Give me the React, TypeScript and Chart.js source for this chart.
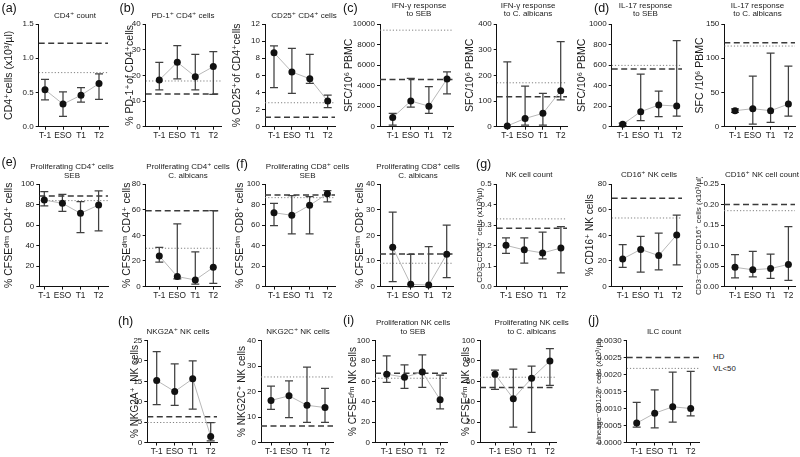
import React, { useEffect, useRef } from "react";
import { Chart, registerables } from "chart.js";
Chart.register(...registerables);

const FONT = "'Liberation Sans', Arial, Helvetica, 'DejaVu Sans', sans-serif";
const xLabels = ["T-1", "ESO", "T1", "T2"];

// (a) CD4+ count
const cd4CountMean = [0.54, 0.33, 0.46, 0.63];
const cd4CountLow = [0.39, 0.15, 0.36, 0.4];
const cd4CountHigh = [0.69, 0.51, 0.57, 0.77];
const cd4CountRef = [1.22, 0.79];
const cd4CountTicks = [0, 0.5, 1.0, 1.5];

// (b) PD-1+ CD4+
const pd1Mean = [18.2, 25.1, 19.5, 23.4];
const pd1Low = [14.3, 18.6, 14.3, 12.6];
const pd1High = [25.1, 31.6, 28.2, 29.2];
const pd1Ref = [12.7, 17.8];
const pd1Ticks = [0, 10, 20, 30, 40];

// (b) CD25+ CD4+
const cd25Mean = [8.65, 6.39, 5.61, 3.0];
const cd25Low = [4.56, 3.9, 5.07, 2.22];
const cd25High = [9.43, 9.16, 8.46, 3.7];
const cd25Ref = [1.1, 2.8];
const cd25Ticks = [0, 2, 4, 6, 8, 10, 12];

// (c) IFN-g SEB
const ifnSebMean = [900, 2500, 2000, 4650];
const ifnSebLow = [150, 1900, 1300, 3200];
const ifnSebHigh = [1300, 4700, 3900, 5350];
const ifnSebRef = [4600, 9400];
const ifnSebTicks = [0, 2000, 4000, 6000, 8000, 10000];

// (c) IFN-g C. albicans
const ifnCaMean = [3, 32, 52, 140];
const ifnCaLow = [0, 6, 6, 104];
const ifnCaHigh = [252, 158, 130, 331];
const ifnCaRef = [117, 171];
const ifnCaTicks = [0, 100, 200, 300, 400];

// (d) IL-17 SEB
const il17SebMean = [23, 146, 211, 201];
const il17SebLow = [10, 58, 97, 104];
const il17SebHigh = [35, 513, 347, 838];
const il17SebRef = [562, 597];
const il17SebTicks = [0, 200, 400, 600, 800, 1000];

// (d) IL-17 C. albicans
const il17CaMean = [23.4, 26.3, 23.4, 33];
const il17CaLow = [21, 3.9, 6.3, 15.6];
const il17CaHigh = [26, 74, 107.6, 88.6];
const il17CaRef = [122.7, 117.8];
const il17CaTicks = [0, 50, 100, 150];

// (e) Proliferating CD4+ SEB
const prCd4SebMean = [84.4, 81.2, 71.4, 79.5];
const prCd4SebLow = [78.6, 73.4, 52.6, 54.2];
const prCd4SebHigh = [92.5, 90, 82.8, 93.2];
const prCd4SebRef = [88.3, 83.8];
const prCd4SebTicks = [0, 20, 40, 60, 80, 100];

// (e) Proliferating CD4+ C. albicans
const prCd4CaMean = [23.9, 7.8, 5.2, 15];
const prCd4CaLow = [19, 6, 2, 2.6];
const prCd4CaHigh = [30.6, 49, 27, 59.2];
const prCd4CaRef = [59.2, 29.9];
const prCd4CaTicks = [0, 20, 40, 60, 80];

// (f) Proliferating CD8+ SEB
const prCd8SebMean = [72, 69.5, 79.2, 90.6];
const prCd8SebLow = [59.4, 51.3, 51.3, 82.5];
const prCd8SebHigh = [81, 88.6, 87.7, 93.5];
const prCd8SebRef = [89.3, 86.7];
const prCd8SebTicks = [0, 20, 40, 60, 80, 100];

// (f) Proliferating CD8+ C. albicans
const prCd8CaMean = [15.3, 0.9, 0.6, 12.6];
const prCd8CaLow = [1.9, 0, 0, 3.5];
const prCd8CaHigh = [29, 12.6, 15.6, 24];
const prCd8CaRef = [12.7, 9.1];
const prCd8CaTicks = [0, 10, 20, 30, 40];

// (g) NK cell count
const nkCountMean = [0.201, 0.179, 0.164, 0.188];
const nkCountLow = [0.162, 0.115, 0.135, 0.067];
const nkCountHigh = [0.237, 0.237, 0.265, 0.292];
const nkCountRef = [0.284, 0.33];
const nkCountTicks = [0, 0.1, 0.2, 0.3, 0.4, 0.5];

// (g) CD16+ NK cells
const cd16PctMean = [21.6, 29, 24.2, 40.3];
const cd16PctLow = [15, 11.2, 13, 16.9];
const cd16PctHigh = [32.7, 39.2, 41.6, 55.8];
const cd16PctRef = [68.8, 53.5];
const cd16PctTicks = [0, 20, 40, 60, 80];

// (g) CD16+ NK cell count
const cd16CountMean = [0.047, 0.041, 0.044, 0.054];
const cd16CountLow = [0.021, 0.024, 0.02, 0.015];
const cd16CountHigh = [0.078, 0.086, 0.079, 0.146];
const cd16CountRef = [0.2, 0.185];
const cd16CountTicks = [0, 0.05, 0.1, 0.15, 0.2, 0.25];

// (h) NKG2A+
const nkg2aMean = [15.2, 12.5, 15.6, 1.5];
const nkg2aLow = [9.3, 9.1, 8.2, 0.4];
const nkg2aHigh = [22.3, 19.3, 20, 4.9];
const nkg2aRef = [6.3, 4.9];
const nkg2aTicks = [0, 5, 10, 15, 20, 25];

// (h) NKG2C+
const nkg2cMean = [16.5, 18.3, 14.6, 13.7];
const nkg2cLow = [13, 9.8, 7.9, 7.9];
const nkg2cHigh = [22.1, 24.2, 29.6, 21.2];
const nkg2cRef = [6.5, 25.7];
const nkg2cTicks = [0, 10, 20, 30, 40];

// (i) Proliferation NK SEB
const prNkSebMean = [67, 64, 69, 42];
const prNkSebLow = [59, 53, 54, 33];
const prNkSebHigh = [85, 76, 86, 66];
const prNkSebRef = [68, 63];
const prNkSebTicks = [0, 20, 40, 60, 80, 100];

// (i) Proliferating NK C. albicans
const prNkCaMean = [67, 43, 63, 80];
const prNkCaLow = [52, 15, 10, 56];
const prNkCaHigh = [71, 72, 75, 92];
const prNkCaRef = [54, 64];
const prNkCaTicks = [0, 20, 40, 60, 80, 100];

// (j) ILC count
const ilcMean = [0.00057, 0.00086, 0.00105, 0.001];
const ilcLow = [0.00045, 0.00043, 0.0006, 0.00078];
const ilcHigh = [0.00118, 0.00155, 0.00207, 0.00209];
const ilcRef = [0.0025, 0.00218];
const ilcTicks = [0, 0.0005, 0.001, 0.0015, 0.002, 0.0025, 0.003];

type P = {
  mean: number[]; low: number[]; high: number[]; ref: number[]; ticks: number[]; dec: number;
  yTitle: string; ts: number; tx: number;
  ax: number; fx: number; sp: number; ex: number; top: number; bot: number;
};

const R1 = { top: 24, bot: 126.7 };
const R2 = { top: 184, bot: 286.6 };
const R3 = { top: 340.5, bot: 442.5 };
const SFC = "SFC/10\u2076 PBMC";

const panels: P[] = [
  { mean: cd4CountMean, low: cd4CountLow, high: cd4CountHigh, ref: cd4CountRef, ticks: cd4CountTicks, dec: 1, yTitle: "CD4\u207Acells (x10\u00B3/\u00B5l)", ts: 10.5, tx: 9, ax: 38.7, fx: 45, sp: 18, ex: 108, ...R1 },
  { mean: pd1Mean, low: pd1Low, high: pd1High, ref: pd1Ref, ticks: pd1Ticks, dec: 0, yTitle: "% PD-1\u207Aof CD4\u207Acells", ts: 10.5, tx: 130, ax: 145.7, fx: 159.3, sp: 18, ex: 221, ...R1 },
  { mean: cd25Mean, low: cd25Low, high: cd25High, ref: cd25Ref, ticks: cd25Ticks, dec: 0, yTitle: "% CD25\u207Aof CD4\u207Acells", ts: 10.5, tx: 236.7, ax: 265, fx: 274, sp: 17.9, ex: 335, ...R1 },
  { mean: ifnSebMean, low: ifnSebLow, high: ifnSebHigh, ref: ifnSebRef, ticks: ifnSebTicks, dec: 0, yTitle: SFC, ts: 10.5, tx: 349.3, ax: 380, fx: 392.7, sp: 18.1, ex: 453, ...R1 },
  { mean: ifnCaMean, low: ifnCaLow, high: ifnCaHigh, ref: ifnCaRef, ticks: ifnCaTicks, dec: 0, yTitle: SFC, ts: 10.5, tx: 470, ax: 496.7, fx: 507.3, sp: 17.8, ex: 567, ...R1 },
  { mean: il17SebMean, low: il17SebLow, high: il17SebHigh, ref: il17SebRef, ticks: il17SebTicks, dec: 0, yTitle: SFC, ts: 10.5, tx: 582.3, ax: 611.7, fx: 622.7, sp: 18, ex: 682, ...R1 },
  { mean: il17CaMean, low: il17CaLow, high: il17CaHigh, ref: il17CaRef, ticks: il17CaTicks, dec: 0, yTitle: "SFC /10\u2076 PBMC", ts: 10.5, tx: 700, ax: 724.3, fx: 735, sp: 17.8, ex: 795, ...R1 },
  { mean: prCd4SebMean, low: prCd4SebLow, high: prCd4SebHigh, ref: prCd4SebRef, ticks: prCd4SebTicks, dec: 0, yTitle: "% CFSE\u1D48\u2071\u1D50 CD4\u207A cells", ts: 10.5, tx: 9, ax: 39.3, fx: 44.3, sp: 18.1, ex: 108, ...R2 },
  { mean: prCd4CaMean, low: prCd4CaLow, high: prCd4CaHigh, ref: prCd4CaRef, ticks: prCd4CaTicks, dec: 0, yTitle: "% CFSE\u1D48\u2071\u1D50 CD4\u207A cells", ts: 10.5, tx: 126.7, ax: 145.7, fx: 159.3, sp: 18, ex: 220, ...R2 },
  { mean: prCd8SebMean, low: prCd8SebLow, high: prCd8SebHigh, ref: prCd8SebRef, ticks: prCd8SebTicks, dec: 0, yTitle: "% CFSE\u1D48\u2071\u1D50 CD8\u207A cells", ts: 10.5, tx: 240, ax: 265, fx: 274, sp: 17.8, ex: 335, ...R2 },
  { mean: prCd8CaMean, low: prCd8CaLow, high: prCd8CaHigh, ref: prCd8CaRef, ticks: prCd8CaTicks, dec: 0, yTitle: "% CFSE\u1D48\u2071\u1D50 CD8\u207A cells", ts: 10.5, tx: 360, ax: 380, fx: 392.7, sp: 18, ex: 453, ...R2 },
  { mean: nkCountMean, low: nkCountLow, high: nkCountHigh, ref: nkCountRef, ticks: nkCountTicks, dec: 1, yTitle: "CD3\u207BCD56\u207A cells (x10\u00B3/\u00B5l)", ts: 8, tx: 480, ax: 496.7, fx: 506, sp: 18.3, ex: 567, ...R2 },
  { mean: cd16PctMean, low: cd16PctLow, high: cd16PctHigh, ref: cd16PctRef, ticks: cd16PctTicks, dec: 0, yTitle: "% CD16\u207A NK cells", ts: 10, tx: 590, ax: 611.7, fx: 622.7, sp: 18, ex: 682, ...R2 },
  { mean: cd16CountMean, low: cd16CountLow, high: cd16CountHigh, ref: cd16CountRef, ticks: cd16CountTicks, dec: 2, yTitle: "CD3\u207BCD56\u207ACD16\u207A cells (x10\u00B3/\u00B5l)", ts: 8, tx: 699, ax: 724, fx: 735, sp: 17.8, ex: 795, ...R2 },
  { mean: nkg2aMean, low: nkg2aLow, high: nkg2aHigh, ref: nkg2aRef, ticks: nkg2aTicks, dec: 0, yTitle: "% NKG2A\u207A  NK cells", ts: 10, tx: 135, ax: 147.3, fx: 156.7, sp: 18, ex: 217, ...R3 },
  { mean: nkg2cMean, low: nkg2cLow, high: nkg2cHigh, ref: nkg2cRef, ticks: nkg2cTicks, dec: 0, yTitle: "% NKG2C\u207A NK cells", ts: 10, tx: 242.7, ax: 261, fx: 271, sp: 18, ex: 333, ...R3 },
  { mean: prNkSebMean, low: prNkSebLow, high: prNkSebHigh, ref: prNkSebRef, ticks: prNkSebTicks, dec: 0, yTitle: "% CFSE\u1D48\u2071\u1D50 NK cells", ts: 10, tx: 353, ax: 375, fx: 386.7, sp: 17.8, ex: 447, ...R3 },
  { mean: prNkCaMean, low: prNkCaLow, high: prNkCaHigh, ref: prNkCaRef, ticks: prNkCaTicks, dec: 0, yTitle: "% CFSE\u1D48\u2071\u1D50 NK cells", ts: 10, tx: 466.7, ax: 480, fx: 495, sp: 18.3, ex: 556, ...R3 },
  { mean: ilcMean, low: ilcLow, high: ilcHigh, ref: ilcRef, ticks: ilcTicks, dec: 4, yTitle: "Lineage\u207BCD127\u207A cells (x10\u00B3/\u00B5l)", ts: 7.5, tx: 598.5, ax: 626.7, fx: 636.7, sp: 18, ex: 699, ...R3 },
];

type T = { lines: string[]; x: number; y: number };
const titles: T[] = [
  { lines: ["CD4\u207A count"], x: 75, y: 15.7 },
  { lines: ["PD-1\u207A CD4\u207A cells"], x: 183, y: 15.7 },
  { lines: ["CD25\u207A CD4\u207A cells"], x: 304, y: 15.7 },
  { lines: ["IFN-\u03B3 response", "to SEB"], x: 419, y: 10.5 },
  { lines: ["IFN-\u03B3 response", "to C. albicans"], x: 528, y: 10.5 },
  { lines: ["IL-17 response", "to SEB"], x: 645.5, y: 10.5 },
  { lines: ["IL-17 response", "to C. albicans"], x: 757.5, y: 10.5 },
  { lines: ["Proliferating CD4\u207A cells", "SEB"], x: 72, y: 172 },
  { lines: ["Proliferating CD4\u207A cells", "C. albicans"], x: 188, y: 172 },
  { lines: ["Proliferating CD8\u207A cells", "SEB"], x: 307.5, y: 172 },
  { lines: ["Proliferating CD8\u207A cells", "C. albicans"], x: 418, y: 172 },
  { lines: ["NK cell count"], x: 529, y: 175 },
  { lines: ["CD16\u207A NK cells"], x: 649, y: 175 },
  { lines: ["CD16\u207A NK cell count"], x: 762, y: 175 },
  { lines: ["NKG2A\u207A NK cells"], x: 178, y: 332.3 },
  { lines: ["NKG2C\u207A NK cells"], x: 298, y: 332.3 },
  { lines: ["Proliferation NK cells", "to SEB"], x: 413, y: 328.3 },
  { lines: ["Proliferating NK cells", "to C. albicans"], x: 531.7, y: 328.3 },
  { lines: ["ILC count"], x: 664, y: 332.3 },
];

const letters = [
  { t: "(a)", x: 1.5, y: 8.3 }, { t: "(b)", x: 119.5, y: 8.3 }, { t: "(c)", x: 343, y: 8.3 }, { t: "(d)", x: 594, y: 8.3 },
  { t: "(e)", x: 1.5, y: 162 }, { t: "(f)", x: 236, y: 164 }, { t: "(g)", x: 476, y: 164 },
  { t: "(h)", x: 118, y: 321 }, { t: "(i)", x: 343, y: 320 }, { t: "(j)", x: 588, y: 320 },
];

const legendItems = [
  { t: "HD", y: 356 },
  { t: "VL<50", y: 367.5 },
];

function Panel({ p }: { p: P }) {
  const ref = useRef<HTMLCanvasElement>(null);
  const L = Math.floor(p.tx - p.ts / 2 - 2);
  const Tp = Math.floor(p.top - 7);
  const Rr = Math.ceil(p.ex + 7);
  const XH = 20;
  const W = Rr - L;
  const H = Math.ceil(p.bot - Tp + XH);
  useEffect(() => {
    const xmin = -(p.fx - p.ax) / p.sp;
    const xmax = 3 + (p.ex - (p.fx + 3 * p.sp)) / p.sp;
    const ymax = p.ticks[p.ticks.length - 1];
    const err = {
      id: "err",
      beforeDatasetDraw(chart: any, args: any) {
        if (args.index !== 0) return;
        const ctx = chart.ctx, xs = chart.scales.x, ys = chart.scales.y;
        ctx.save();
        ctx.strokeStyle = "#404040";
        ctx.lineWidth = 1.25;
        for (let i = 0; i < p.mean.length; i++) {
          const x = xs.getPixelForValue(i);
          const y1 = ys.getPixelForValue(p.low[i]);
          const y2 = ys.getPixelForValue(p.high[i]);
          ctx.beginPath();
          ctx.moveTo(x, y1); ctx.lineTo(x, y2);
          ctx.moveTo(x - 4, y1); ctx.lineTo(x + 4, y1);
          ctx.moveTo(x - 4, y2); ctx.lineTo(x + 4, y2);
          ctx.stroke();
        }
        ctx.restore();
      },
    };
    const pts = p.mean.map((y, i) => ({ x: i, y }));
    const chart = new Chart(ref.current!, {
      type: "line",
      data: {
        datasets: [
          { data: pts, showLine: false, pointRadius: 3.5, pointBackgroundColor: "#111", pointBorderWidth: 0, order: 0, clip: false } as any,
          { data: pts, borderColor: "#b8b8b8", borderWidth: 1, pointRadius: 0, order: 1, clip: false } as any,
          { data: [{ x: xmin, y: p.ref[1] }, { x: xmax, y: p.ref[1] }], borderColor: "#808080", borderWidth: 1, borderDash: [1.2, 2], pointRadius: 0, order: 2 } as any,
          { data: [{ x: xmin, y: p.ref[0] }, { x: xmax, y: p.ref[0] }], borderColor: "#3a3a3a", borderWidth: 1.5, borderDash: [6, 3.5], pointRadius: 0, order: 3 } as any,
        ],
      },
      options: {
        animation: false,
        responsive: false,
        devicePixelRatio: 1,
        events: [],
        layout: { padding: { left: 0, top: p.top - Tp, right: Rr - p.ex, bottom: H - XH - (p.bot - Tp) } },
        plugins: { legend: { display: false }, tooltip: { enabled: false } },
        scales: {
          x: {
            type: "linear", min: xmin, max: xmax,
            afterBuildTicks: (s: any) => { s.ticks = xLabels.map((_, i) => ({ value: i })); },
            afterFit: (s: any) => { s.height = XH; },
            ticks: { callback: (v: any) => xLabels[v] ?? "", font: { family: FONT, size: 8.3 }, color: "#1a1a1a", padding: 1.5, autoSkip: false, maxRotation: 0 },
            grid: { drawOnChartArea: false, tickLength: 3, color: "#111" },
            border: { color: "#111", width: 1 },
          },
          y: {
            type: "linear", min: 0, max: ymax,
            afterBuildTicks: (s: any) => { s.ticks = p.ticks.map((v) => ({ value: v })); },
            afterFit: (s: any) => { s.width = p.ax - L; },
            ticks: { callback: (v: any) => Number(v).toFixed(p.dec), font: { family: FONT, size: 8 }, color: "#1a1a1a", padding: 2 },
            grid: { drawOnChartArea: false, tickLength: 3, color: "#111" },
            border: { color: "#111", width: 1 },
            title: { display: true, text: p.yTitle, color: "#1a1a1a", font: { family: FONT, size: p.ts, lineHeight: 1 }, padding: { top: p.tx - L - p.ts / 2, bottom: 0 } },
          },
        },
      } as any,
      plugins: [err],
    });
    return () => chart.destroy();
  }, []);
  return <canvas ref={ref} width={W} height={H} style={{ position: "absolute", left: L, top: Tp, width: W, height: H }} />;
}

export default function App() {
  return (
    <div style={{ position: "absolute", left: 0, top: 0, width: 800, height: 457, background: "#fff", overflow: "hidden", fontFamily: FONT, color: "#1a1a1a" }}>
      {panels.map((p, i) => <Panel key={i} p={p} />)}
      {titles.map((t, i) => (
        <div key={"t" + i} style={{ position: "absolute", left: t.x, top: t.y, transform: "translate(-50%, -50%)", fontSize: 8, lineHeight: "8.6px", textAlign: "center", whiteSpace: "nowrap", color: "#1a1a1a" }}>
          {t.lines.map((l, j) => <div key={j}>{l}</div>)}
        </div>
      ))}
      {letters.map((l, i) => (
        <div key={"l" + i} style={{ position: "absolute", left: l.x, top: l.y, transform: "translateY(-50%)", fontSize: 12.5, lineHeight: "13px", whiteSpace: "nowrap", color: "#111" }}>{l.t}</div>
      ))}
      {legendItems.map((g, i) => (
        <div key={"g" + i} style={{ position: "absolute", left: 713, top: g.y, transform: "translateY(-50%)", fontSize: 7.8, lineHeight: "9px", color: "#1a1a1a", background: "transparent", whiteSpace: "nowrap" }}>{g.t}</div>
      ))}
    </div>
  );
}
